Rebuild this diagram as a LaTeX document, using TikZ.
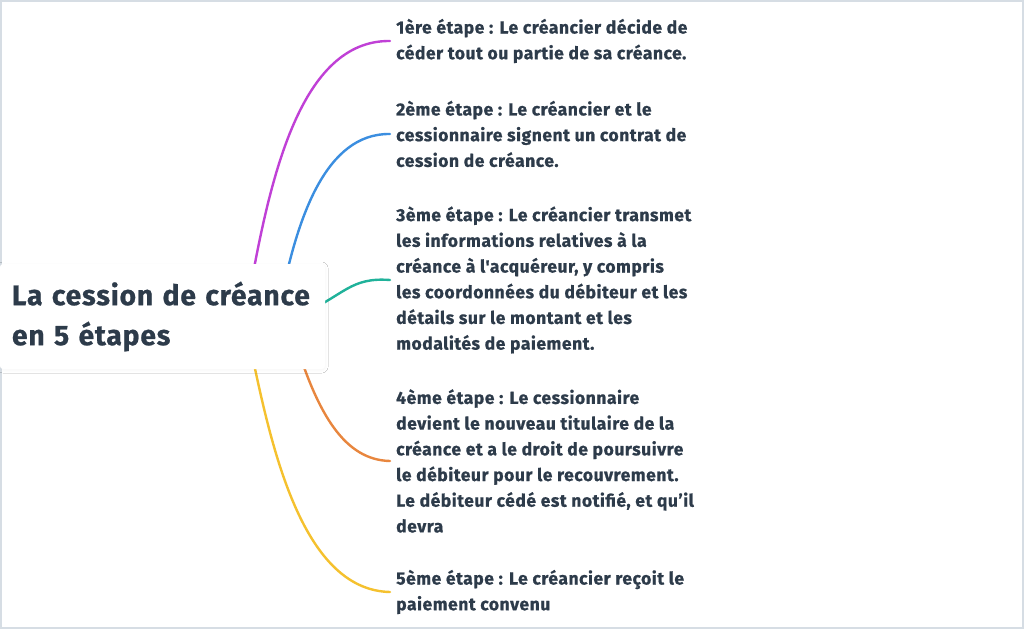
\documentclass[tikz,border=0pt]{standalone}
\usepackage{fontspec}
\newfontfamily\dinfont{Fira Sans}[LetterSpace=3, BoldFeatures={FakeBold=0.8}]
\usetikzlibrary{shadows.blur}
\definecolor{txt}{HTML}{2D3B4A}
\definecolor{cpurple}{HTML}{C040D6}
\definecolor{cblue}{HTML}{3B8EE0}
\definecolor{cteal}{HTML}{20B29A}
\definecolor{corange}{HTML}{E8863E}
\definecolor{cyellow}{HTML}{F5C12E}
\definecolor{frame}{HTML}{D6DDE4}
\pgfdeclarelayer{bg}
\pgfsetlayers{bg,main}
\tikzset{
  steptext/.style={anchor=west, inner xsep=6pt, inner ysep=0pt, align=left, text=txt,
    font=\dinfont\bfseries\fontsize{17.5}{25.7}\selectfont},
  rootbox/.style={fill=white, rounded corners=3pt, minimum width=325pt, minimum height=105pt,
    text width=301pt, align=left, text=txt, font=\dinfont\bfseries\fontsize{28.2}{40}\selectfont,
    blur shadow={shadow xshift=0pt, shadow yshift=-1pt, shadow opacity=4, shadow blur steps=6, shadow blur radius=3pt}},
  branch/.style={line width=2.4pt, line cap=round}
}
\begin{document}
\begin{tikzpicture}[x=1pt,y=-1pt]
\useasboundingbox (0,0) rectangle (1024,629);

\node[rootbox] (root) at (162.5,316.5) {La cession de créance\\en 5 étapes};

\node[steptext] (t1) at (390,41) {1ère étape : Le créancier décide de\\céder tout ou partie de sa créance.};
\node[steptext] (t2) at (390,134) {2ème étape : Le créancier et le\\cessionnaire signent un contrat de\\cession de créance.};
\node[steptext] (t3) at (390,280) {3ème étape : Le créancier transmet\\les informations relatives à la\\créance à l'acquéreur, y compris\\les coordonnées du débiteur et les\\détails sur le montant et les\\modalités de paiement.};
\node[steptext] (t4) at (390,461) {4ème étape : Le cessionnaire\\devient le nouveau titulaire de la\\créance et a le droit de poursuivre\\le débiteur pour le recouvrement.\\Le débiteur cédé est notifié, et qu’il\\devra};
\node[steptext] (t5) at (390,592) {5ème étape : Le créancier reçoit le\\paiement convenu};

\coordinate (s1) at (250,290);
\coordinate (s2) at (283,290);
\coordinate (s3) at (300,315);
\coordinate (s4) at (295,340);
\coordinate (s5) at (250,345);

\begin{pgfonlayer}{bg}
\fill[white] (0,0) rectangle (1024,629);
\draw[frame, line width=2pt] (1,1) rectangle (1023,628);
\draw[branch, cpurple] (s1) .. controls (270,180) and (300,40) .. (t1.west);
\draw[branch, cblue] (s2) .. controls (298,220) and (325,133) .. (t2.west);
\draw[branch, cteal] (s3) .. controls (345,295) and (350,277) .. (t3.west);
\draw[branch, corange] (s4) .. controls (318,415) and (345,460) .. (t4.west);
\draw[branch, cyellow] (s5) .. controls (270,440) and (300,590) .. (t5.west);
\end{pgfonlayer}
\end{tikzpicture}
\end{document}
